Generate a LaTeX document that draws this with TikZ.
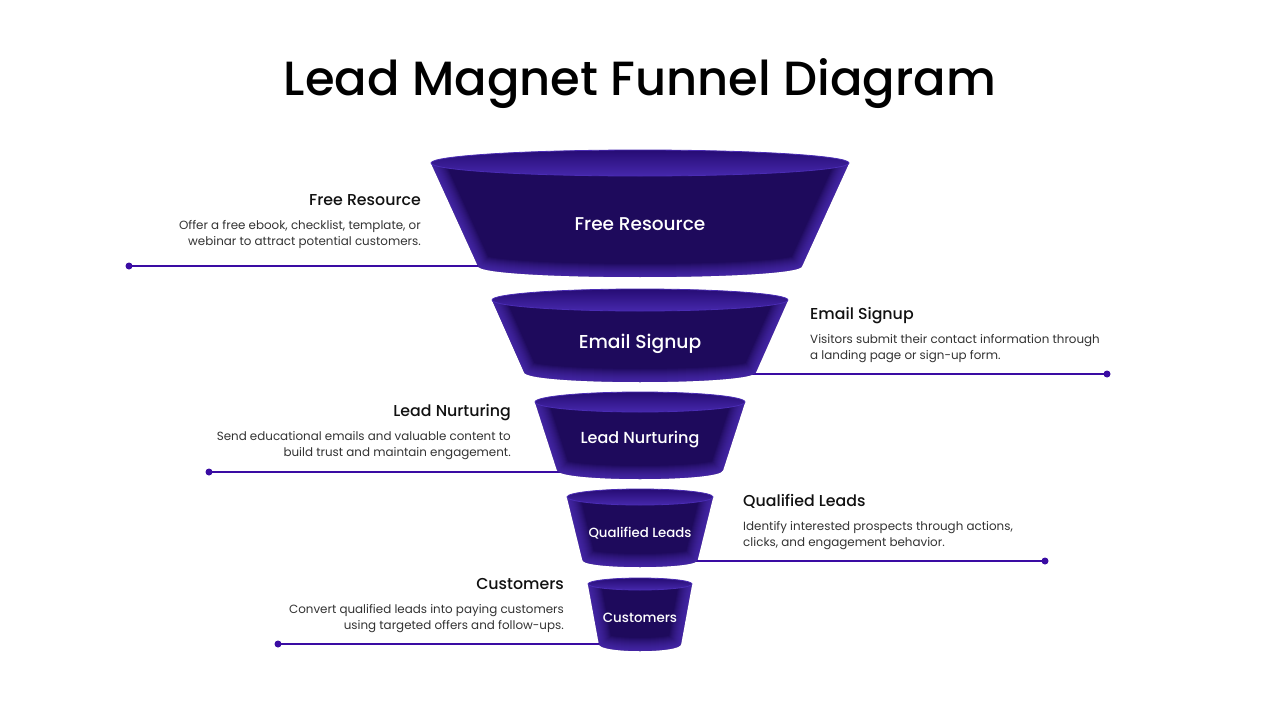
\documentclass[tikz,border=0pt]{standalone}
\usepackage{fontspec}
\setmainfont{Poppins}
\newfontfamily\pmed{Poppins Medium}
\newfontfamily\pbody{Poppins}
\definecolor{fdark}{HTML}{1E0A5C}
\definecolor{fedge}{HTML}{5A38CC}
\definecolor{frimtop}{HTML}{260C74}
\definecolor{frimbot}{HTML}{4628AC}
\definecolor{frimedge}{HTML}{4A2CB4}
\definecolor{lineclr}{HTML}{3A0CA3}
\definecolor{headclr}{HTML}{111111}
\definecolor{bodyclr}{HTML}{333333}
\tikzset{
  head/.style={font=\pmed\fontsize{15.8}{18}\selectfont, text=headclr, inner sep=0pt},
  bodytxt/.style={font=\pbody\fontsize{11.9}{14}\selectfont, text=bodyclr, inner sep=0pt},
  flabel/.style={font=\pmed, text=white, inner sep=0pt},
  conn/.style={draw=lineclr, line width=1.1pt},
  dotmark/.style={circle, fill=lineclr, minimum size=7pt, inner sep=0pt},
}
\newcommand\fseg[7]{%
  \pgfmathsetmacro\xtl{640-#3}\pgfmathsetmacro\xtr{640+#3}%
  \pgfmathsetmacro\xbl{640-#6}\pgfmathsetmacro\xbr{640+#6}%
  \pgfmathsetmacro\ybc{#5+1.333*#7}%
  \coordinate (#1tl) at (\xtl,#2);
  \coordinate (#1tr) at (\xtr,#2);
  \coordinate (#1bl) at (\xbl,#5);
  \coordinate (#1br) at (\xbr,#5);
  \fill[fdark] (#1tl) -- (#1bl) .. controls (\xbl,\ybc) and (\xbr,\ybc) .. (#1br) -- (#1tr) -- cycle;
  \begin{scope}
    \clip (#1tl) -- (#1bl) .. controls (\xbl,\ybc) and (\xbr,\ybc) .. (#1br) -- (#1tr) -- cycle;
    \foreach \w in {2,4,...,26} {
      \draw[fedge, line width=\w pt, opacity=.08, line join=round]
        (#1tl) -- (#1bl) .. controls (\xbl,\ybc) and (\xbr,\ybc) .. (#1br) -- (#1tr);
    }
  \end{scope}
  \shade[top color=frimtop, bottom color=frimbot] (640,#2) ellipse [x radius=#3, y radius=#4];
  \draw[frimedge, line width=.8pt] (640,#2) ellipse [x radius=#3, y radius=#4];
}
\begin{document}
\begin{tikzpicture}[x=1pt, y=-1pt]
\useasboundingbox (0,0) rectangle (1280,720);
\fill[white] (0,0) rectangle (1280,720);

% title
\node[font=\pmed\fontsize{48}{52}\selectfont, text=black, inner sep=0pt, anchor=base] (title) at (640,95) {Lead Magnet Funnel Diagram};

% connectors (behind funnel)
\node[dotmark] (d1) at (129,266) {};
\node[dotmark] (d2) at (1107,374) {};
\node[dotmark] (d3) at (209,472) {};
\node[dotmark] (d4) at (1045,561) {};
\node[dotmark] (d5) at (278,644) {};
\coordinate (e1) at (490,266);
\coordinate (e2) at (745,374);
\coordinate (e3) at (565,472);
\coordinate (e4) at (690,561);
\coordinate (e5) at (605,644);
\draw[conn] (d1.center) -- (e1);
\draw[conn] (e2) -- (d2.center);
\draw[conn] (d3.center) -- (e3);
\draw[conn] (e4) -- (d4.center);
\draw[conn] (d5.center) -- (e5);

% funnel segments
\fseg{fa}{163}{209}{13}{266}{162}{11}
\fseg{fb}{300}{148}{11}{372}{116}{10}
\fseg{fc}{402}{105}{10}{470}{83}{9}
\fseg{fd}{497}{73}{8}{560}{57.5}{7}
\fseg{fe}{584}{52}{6}{644}{41}{7}

\node[flabel, font=\pmed\fontsize{18.5}{20}\selectfont] (la) at (640,224) {Free Resource};
\node[flabel, font=\pmed\fontsize{18.7}{20}\selectfont] (lb) at (640,344) {Email Signup};
\node[flabel, font=\pmed\fontsize{16}{18}\selectfont] (lc) at (640,440) {Lead Nurturing};
\node[flabel, font=\pmed\fontsize{13.3}{15}\selectfont] (ld) at (640,533) {Qualified Leads};
\node[flabel, font=\pmed\fontsize{13.4}{15}\selectfont] (le) at (640,618) {Customers};

% side texts
\node[head, anchor=base east] (h1) at (421,205) {Free Resource};
\node[bodytxt, anchor=base east] (b1a) at (421,229) {Offer a free ebook, checklist, template, or};
\node[bodytxt, anchor=base east] (b1b) at (421,245.5) {webinar to attract potential customers.};

\node[head, anchor=base west] (h2) at (810,319) {Email Signup};
\node[bodytxt, anchor=base west] (b2a) at (810,343) {Visitors submit their contact information through};
\node[bodytxt, anchor=base west] (b2b) at (810,359.5) {a landing page or sign-up form.};

\node[head, anchor=base east] (h3) at (511,416) {Lead Nurturing};
\node[bodytxt, anchor=base east] (b3a) at (511,440) {Send educational emails and valuable content to};
\node[bodytxt, anchor=base east] (b3b) at (511,456.5) {build trust and maintain engagement.};

\node[head, anchor=base west] (h4) at (743,506) {Qualified Leads};
\node[bodytxt, anchor=base west] (b4a) at (743,530) {Identify interested prospects through actions,};
\node[bodytxt, anchor=base west] (b4b) at (743,546.5) {clicks, and engagement behavior.};

\node[head, anchor=base east] (h5) at (564,589) {Customers};
\node[bodytxt, anchor=base east] (b5a) at (564,613) {Convert qualified leads into paying customers};
\node[bodytxt, anchor=base east] (b5b) at (564,629.5) {using targeted offers and follow-ups.};
\end{tikzpicture}
\end{document}
